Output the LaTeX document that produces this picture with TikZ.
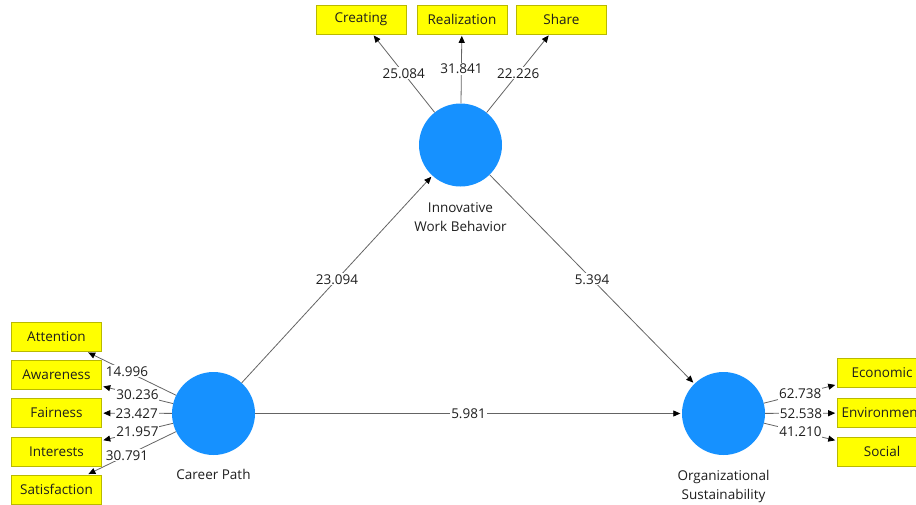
\documentclass[tikz,border=0pt]{standalone}
\usepackage{fontspec}
\setmainfont{Open Sans}
\usetikzlibrary{arrows.meta}
\definecolor{lvc}{RGB}{22,145,255}
\definecolor{indc}{RGB}{255,255,0}
\definecolor{indb}{RGB}{185,185,0}
\definecolor{lnc}{RGB}{100,100,100}
\definecolor{txc}{RGB}{30,30,30}
\begin{document}
\begin{tikzpicture}[x=1pt,y=-1pt,
  lv/.style={circle, fill=lvc, draw=none, minimum size=83pt, inner sep=0pt},
  ind/.style={rectangle, fill=indc, draw=indb, line width=0.6pt, minimum width=90pt, minimum height=29pt, inner sep=0pt, text=txc, font=\fontsize{13.5}{15}\selectfont},
  lvlab/.style={text=txc, align=center, font=\fontsize{13.5}{19.5}\selectfont},
  conn/.style={draw=lnc, line width=0.8pt, -{Triangle[length=7pt,width=6pt,color=black]}, shorten >=1.5pt},
  wlab/.style={fill=white, inner sep=1pt, text=txc, font=\fontsize{13.5}{15}\selectfont}]
\useasboundingbox (0,0) rectangle (916,504);
\clip (0,0) rectangle (916,504);
% latent variables
\node[lv] (IWB) at (460.5,145) {};
\node[lv] (CP) at (213.5,413.5) {};
\node[lv] (OS) at (723.5,413.5) {};
\node[lvlab] (IWBl) at (460.5,217) {Innovative\\Work Behavior};
\node[lvlab] (CPl) at (213.5,474) {Career Path};
\node[lvlab] (OSl) at (723.5,486.5) {Organizational\\Sustainability};
% indicators
\node[ind] (Cre) at (361,19.5) {Creating};
\node[ind] (Rea) at (462,19.5) {Realization};
\node[ind] (Sha) at (561.5,19.5) {Share};
\node[ind] (Att) at (56.5,337) {Attention};
\node[ind] (Awa) at (56.5,375) {Awareness};
\node[ind] (Fai) at (56.5,413) {Fairness};
\node[ind] (Int) at (56.5,451.5) {Interests};
\node[ind] (Sat) at (56.5,489.5) {Satisfaction};
\node[ind] (Eco) at (882,373) {Economic};
\node[ind] (Env) at (882,413) {Environment};
\node[ind] (Soc) at (882,451.5) {Social};
% outer loadings
\draw[conn] (IWB) -- node[wlab] {25.084} (Cre);
\draw[conn] (IWB) -- node[wlab] {31.841} (Rea);
\draw[conn] (IWB) -- node[wlab] {22.226} (Sha);
\draw[conn] (CP) -- node[wlab,pos=0.55] {14.996} (Att);
\draw[conn] (CP) -- node[wlab] {30.236} (Awa);
\draw[conn] (CP) -- node[wlab] {23.427} (Fai);
\draw[conn] (CP) -- node[wlab] {21.957} (Int);
\draw[conn] (CP) -- node[wlab,pos=0.55] {30.791} (Sat);
\draw[conn] (OS) -- node[wlab] {62.738} (Eco);
\draw[conn] (OS) -- node[wlab] {52.538} (Env);
\draw[conn] (OS) -- node[wlab] {41.210} (Soc);
% structural paths
\draw[conn] (CP) -- node[wlab] {23.094} (IWB);
\draw[conn] (IWB) -- node[wlab] {5.394} (OS);
\draw[conn] (CP) -- node[wlab] {5.981} (OS);
\end{tikzpicture}
\end{document}
